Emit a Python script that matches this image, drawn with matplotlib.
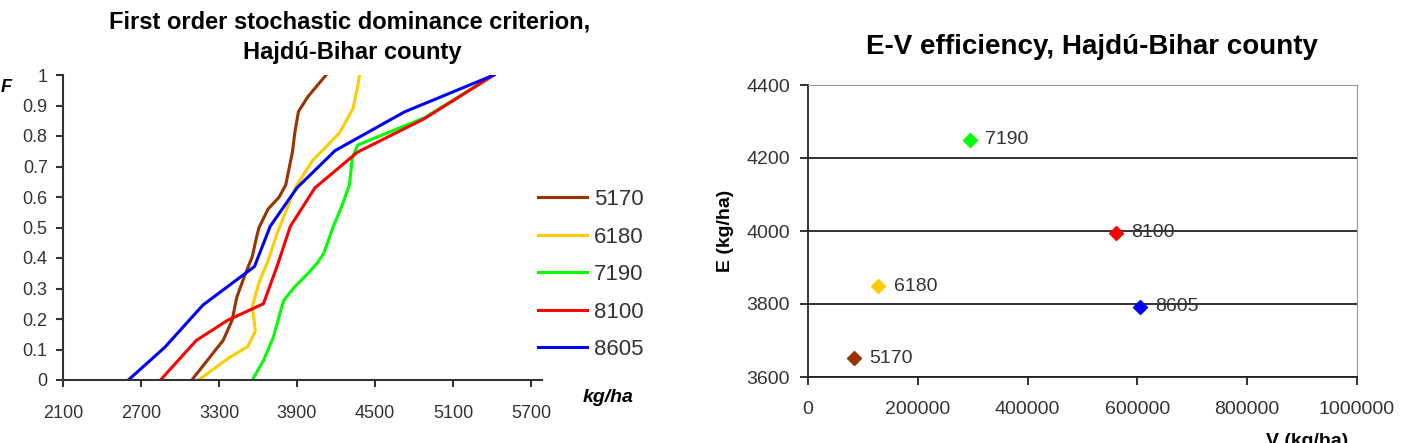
import matplotlib.pyplot as plt

plt.rcParams['font.family'] = ['Liberation Sans', 'DejaVu Sans']

# CDF curves (yield kg/ha vs F)
hybrids = ["5170", "6180", "7190", "8100", "8605"]
colors = ["#993300", "#FFCC00", "#00FF00", "#FF0000", "#0000FF"]

x_5170 = [3091, 3332, 3401, 3436, 3487, 3556, 3590, 3608, 3677, 3763, 3814, 3866, 3883, 3911, 3986, 4124]
f_5170 = [0.0, 0.13, 0.196, 0.27, 0.33, 0.405, 0.47, 0.5, 0.56, 0.6, 0.64, 0.75, 0.81, 0.88, 0.93, 1.0]

x_6180 = [3143, 3367, 3522, 3580, 3556, 3608, 3677, 3746, 3831, 3900, 4021, 4227, 4331, 4365, 4382]
f_6180 = [0.0, 0.07, 0.11, 0.16, 0.24, 0.32, 0.39, 0.48, 0.57, 0.64, 0.72, 0.81, 0.89, 0.96, 1.0]

x_7190 = [3556, 3642, 3718, 3763, 3797, 3883, 3986, 4055, 4107, 4176, 4245, 4303, 4314, 4324, 4365, 4881, 5415]
f_7190 = [0.0, 0.064, 0.14, 0.21, 0.26, 0.306, 0.35, 0.383, 0.416, 0.5, 0.57, 0.64, 0.68, 0.725, 0.77, 0.86, 1.0]

x_8100 = [2850, 3126, 3367, 3642, 3746, 3849, 4038, 4365, 4881, 5415]
f_8100 = [0.0, 0.13, 0.196, 0.25, 0.372, 0.504, 0.63, 0.747, 0.857, 1.0]

x_8605 = [2603, 2885, 3177, 3573, 3694, 3900, 4193, 4727, 5415]
f_8605 = [0.0, 0.108, 0.246, 0.372, 0.504, 0.63, 0.752, 0.879, 1.0]

cdf_x = [x_5170, x_6180, x_7190, x_8100, x_8605]
cdf_f = [f_5170, f_6180, f_7190, f_8100, f_8605]

# E-V points
ev_v = [83000, 128000, 295000, 561000, 604000]
ev_e = [3651, 3848, 4250, 3995, 3793]

xticks_left = [2100, 2700, 3300, 3900, 4500, 5100, 5700]
yticks_left = [0, 0.1, 0.2, 0.3, 0.4, 0.5, 0.6, 0.7, 0.8, 0.9, 1]
xticks_right = [0, 200000, 400000, 600000, 800000, 1000000]
yticks_right = [3600, 3800, 4000, 4200, 4400]

W, H = 1401, 443
fig = plt.figure(figsize=(14.01, 4.43), dpi=100)

# left: stochastic dominance
ax1 = fig.add_axes([63 / W, 1 - 380 / H, (542 - 63) / W, (380 - 75) / H])
for xs, fs, c, lab in zip(cdf_x, cdf_f, colors, hybrids):
    ax1.plot(xs, fs, color=c, lw=2.2, label=lab)
ax1.set_xlim(2100, 5785)
ax1.set_ylim(0, 1)
ax1.set_xticks(xticks_left)
ax1.set_yticks(yticks_left)
ax1.set_yticklabels(["0", "0.1", "0.2", "0.3", "0.4", "0.5", "0.6", "0.7", "0.8", "0.9", "1"])
for s in ["top", "right"]:
    ax1.spines[s].set_visible(False)
for s in ["left", "bottom"]:
    ax1.spines[s].set_color("#333333")
    ax1.spines[s].set_linewidth(1.5)
ax1.tick_params(axis="both", direction="out", length=5, width=1.5, color="#333333",
                labelsize=13, labelcolor="#333333")
ax1.tick_params(axis="y", pad=6)
ax1.tick_params(axis="x", pad=13)
fig.text(350 / W, 1 - 22 / H, "First order stochastic dominance criterion,",
         fontsize=17, fontweight="bold", ha="center", va="center")
fig.text(352 / W, 1 - 53 / H, "Hajdú-Bihar county",
         fontsize=17, fontweight="bold", ha="center", va="center")
fig.text(0.5 / W, 1 - 88 / H, "F", fontsize=13, fontweight="bold", style="italic", va="center")
fig.text(583 / W, 1 - 398 / H, "kg/ha", fontsize=14, fontweight="bold", style="italic", va="center")
ax1.legend(loc="upper left", bbox_to_anchor=(0.950, 0.691), frameon=False, fontsize=16,
           handlelength=2.2, labelspacing=0.74, handletextpad=0.3, labelcolor="#333333")

# right: E-V efficiency
ax2 = fig.add_axes([808 / W, 1 - 377 / H, (1357 - 808) / W, (377 - 85) / H])
for v, e, c, lab in zip(ev_v, ev_e, colors, hybrids):
    ax2.plot(v, e, marker="D", ms=7, color=c, ls="none")
    ax2.annotate(lab, (v, e), xytext=(11, 0), textcoords="offset points",
                 fontsize=14, color="#333333", va="center")
ax2.set_xlim(0, 1000000)
ax2.set_ylim(3600, 4400)
ax2.set_xticks(xticks_right)
ax2.set_xticklabels([str(t) for t in xticks_right])
ax2.set_yticks(yticks_right)
ax2.grid(axis="y", color="#222222", lw=1.3)
ax2.set_axisbelow(True)
for s in ["top", "right"]:
    ax2.spines[s].set_color("#999999")
for s in ["left", "bottom"]:
    ax2.spines[s].set_color("#222222")
    ax2.spines[s].set_linewidth(1.3)
ax2.tick_params(axis="both", direction="out", length=6, width=1.3, color="#222222",
                labelsize=14, labelcolor="#333333")
ax2.tick_params(axis="y", pad=7)
ax2.tick_params(axis="x", pad=11)
fig.text(1092 / W, 1 - 47 / H, "E-V efficiency, Hajdú-Bihar county",
         fontsize=20, fontweight="bold", ha="center", va="center")
fig.text(725 / W, 1 - 231 / H, "E (kg/ha)", fontsize=14, fontweight="bold",
         rotation=90, ha="center", va="center")
fig.text(1307 / W, 1 - 433 / H, "V (kg/ha)", fontsize=14, fontweight="bold",
         ha="center", va="top")

fig.savefig("out.png", dpi=100)
